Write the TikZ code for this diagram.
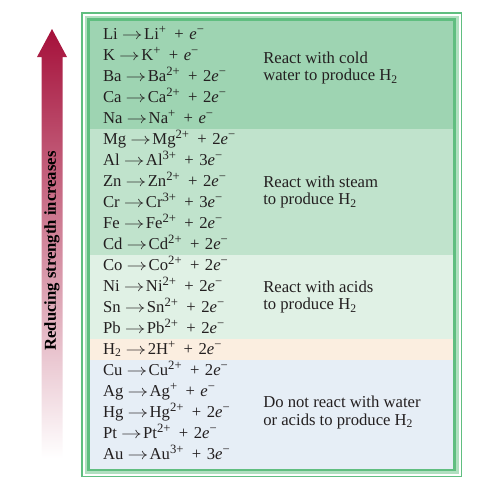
\documentclass[tikz,border=0pt]{standalone}
\usepackage{fontspec}
\setmainfont{Liberation Serif}
\usepackage{xcolor}
\usetikzlibrary{positioning,backgrounds,calc}

\definecolor{frameline}{RGB}{96,190,128}
\definecolor{framemid}{RGB}{176,224,192}
\definecolor{bandcold}{RGB}{158,212,178}
\definecolor{bandsteam}{RGB}{192,227,204}
\definecolor{bandacid}{RGB}{224,241,229}
\definecolor{bandhyd}{RGB}{251,238,224}
\definecolor{bandnoble}{RGB}{230,238,246}
\definecolor{arrtop}{RGB}{165,16,58}
\definecolor{arrmid}{RGB}{216,120,120}
\definecolor{inkc}{RGB}{35,31,32}

\newcommand{\yields}{\hspace{0.25em}\scalebox{1.3}[1]{$\rightarrow$}\hspace{0.08em}}
\newcommand{\chg}[1]{\raisebox{0.32em}{\fontsize{9.5pt}{9.5pt}\selectfont #1}\,}
\newcommand{\elc}{\textit{e}\raisebox{0.32em}{\fontsize{9.5pt}{9.5pt}\selectfont −}}

\begin{document}
\begin{tikzpicture}[
    % Define node styles
    x = 0.75pt, y = -0.75pt,
    node distance = 0pt,
    font = \fontsize{12.5pt}{13.3pt}\selectfont,
    text = inkc,
    eqn/.style={rectangle, inner sep=0pt, outer sep=0pt, minimum height=15.75pt, text height=10pt, text depth=3pt, text width=112.5pt, align=left},
    note/.style={rectangle, inner sep=0pt, anchor=west, xshift=7.5pt, align=left},
    cold/.style={fill=bandcold},
    steam/.style={fill=bandsteam},
    acid/.style={fill=bandacid},
    hyd/.style={fill=bandhyd},
    noble/.style={fill=bandnoble},
]
\useasboundingbox (0,0) rectangle (490,493);

% Half reactions
\node[eqn, anchor=north west] (li) at (103,24) {Li\yields Li\chg{+} + \elc};
\node[eqn, below= of li] (k) {K\yields K\chg{+} + \elc};
\node[eqn, below= of k] (ba) {Ba\yields Ba\chg{2+} + 2\elc};
\node[eqn, below= of ba] (ca) {Ca\yields Ca\chg{2+} + 2\elc};
\node[eqn, below= of ca] (na) {Na\yields Na\chg{+} + \elc};

\node[eqn, below= of na] (mg) {Mg\yields Mg\chg{2+} + 2\elc};
\node[eqn, below= of mg] (al) {Al\yields Al\chg{3+} + 3\elc};
\node[eqn, below= of al] (zn) {Zn\yields Zn\chg{2+} + 2\elc};
\node[eqn, below= of zn] (cr) {Cr\yields Cr\chg{3+} + 3\elc};
\node[eqn, below= of cr] (fe) {Fe\yields Fe\chg{2+} + 2\elc};
\node[eqn, below= of fe] (cd) {Cd\yields Cd\chg{2+} + 2\elc};

\node[eqn, below= of cd] (co) {Co\yields Co\chg{2+} + 2\elc};
\node[eqn, below= of co] (ni) {Ni\yields Ni\chg{2+} + 2\elc};
\node[eqn, below= of ni] (sn) {Sn\yields Sn\chg{2+} + 2\elc};
\node[eqn, below= of sn] (pb) {Pb\yields Pb\chg{2+} + 2\elc};

\node[eqn, below= of pb] (htwo) {H\textsubscript{2}\yields 2H\chg{+} + 2\elc};

\node[eqn, below= of htwo] (cu) {Cu\yields Cu\chg{2+} + 2\elc};
\node[eqn, below= of cu] (ag) {Ag\yields Ag\chg{+} + \elc};
\node[eqn, below= of ag] (hg) {Hg\yields Hg\chg{2+} + 2\elc};
\node[eqn, below= of hg] (pt) {Pt\yields Pt\chg{2+} + 2\elc};
\node[eqn, below= of pt] (au) {Au\yields Au\chg{3+} + 3\elc};

% Group notes
\node[note] (coldnote) at ($(k.east)!0.6!(ba.east)$) {React with cold\\water to produce H\textsubscript{2}};
\node[note] (steamnote) at ($(zn.east)!0.5!(cr.east)$) {React with steam\\to produce H\textsubscript{2}};
\node[note] (acidnote) at ($(ni.east)!0.5!(sn.east)$) {React with acids\\to produce H\textsubscript{2}};
\node[note] (noblenote) at (hg.east) {Do not react with water\\or acids to produce H\textsubscript{2}};

% Frame and colour bands
\begin{scope}[on background layer]
    \coordinate (tl) at (89.5,20.5);
    \coordinate (br) at (452.5,468.5);
    \fill[frameline] (81,12) rectangle (462,477);
    \fill[white] (82.5,13.5) rectangle (460.5,475.5);
    \fill[framemid] (84.5,15.5) rectangle (458.5,473.5);
    \fill[frameline] (87,18) rectangle (456,471);
    \fill[cold] (tl) rectangle (na.south -| br);
    \fill[steam] (na.south -| tl) rectangle (cd.south -| br);
    \fill[acid] (cd.south -| tl) rectangle (pb.south -| br);
    \fill[hyd] (pb.south -| tl) rectangle (htwo.south -| br);
    \fill[noble] (htwo.south -| tl) rectangle (br);
\end{scope}

% Reducing strength arrow
\shade[top color=arrtop, middle color=arrmid, bottom color=white]
    (52,29) -- (67,57) -- (62.5,57) -- (62.5,458) -- (41.5,458) -- (41.5,57) -- (37,57) -- cycle;
\node[rotate=90, font=\fontsize{12.5pt}{13.3pt}\selectfont\bfseries, text=black] (redlabel) at (52,251) {Reducing strength increases};

\end{tikzpicture}
\end{document}
